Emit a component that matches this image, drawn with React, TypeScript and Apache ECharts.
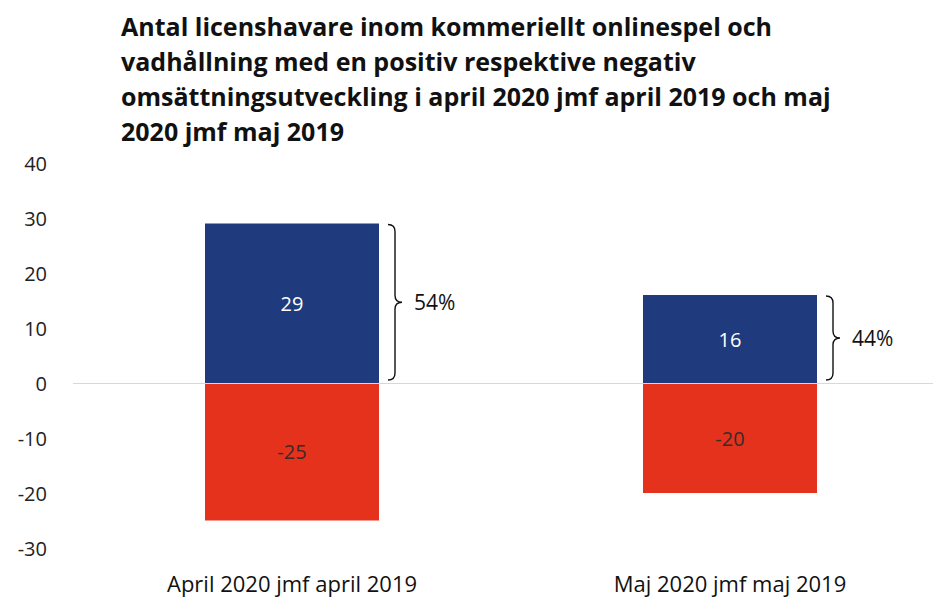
import React, { useEffect, useRef } from "react";
import * as echarts from "echarts";

const categories = ["April 2020 jmf april 2019", "Maj 2020 jmf maj 2019"];
const positiveValues = [29, 16];
const negativeValues = [-25, -20];
const shareLabels = ["54%", "44%"];
const yTicks = { min: -30, max: 40, interval: 10 };
const titleLines = [
  "Antal licenshavare inom kommeriellt onlinespel och",
  "vadhållning med en positiv respektive negativ",
  "omsättningsutveckling i april 2020 jmf april 2019 och maj",
  "2020 jmf maj 2019",
];

const BAR_W = 174;
const FONT = "'Open Sans', 'Noto Sans', sans-serif";

export default function App() {
  const ref = useRef<HTMLDivElement>(null);
  useEffect(() => {
    document.body.style.margin = "0";
    if (!ref.current) return;
    const chart = echarts.init(ref.current, undefined, { renderer: "svg" });
    const braceData = positiveValues.map((v, i) => [i, v, shareLabels[i]]);
    chart.setOption({
      animation: false,
      backgroundColor: "#ffffff",
      title: {
        text: titleLines.join("\n"),
        left: 116,
        top: 3,
        textStyle: {
          fontFamily: FONT,
          fontWeight: "bold",
          fontSize: 25,
          lineHeight: 35,
          color: "#111111",
        },
      },
      grid: { left: 73, top: 163, width: 876, height: 385 },
      xAxis: {
        type: "category",
        data: categories,
        position: "bottom",
        axisLine: { show: false },
        axisTick: { show: false },
        axisLabel: {
          margin: 24,
          fontFamily: FONT,
          fontSize: 22,
          color: "#111111",
        },
      },
      yAxis: {
        type: "value",
        min: yTicks.min,
        max: yTicks.max,
        interval: yTicks.interval,
        axisLine: { show: false },
        axisTick: { show: false },
        splitLine: { show: false },
        axisLabel: {
          margin: 26,
          fontFamily: FONT,
          fontSize: 20,
          color: "#222222",
        },
      },
      series: [
        {
          type: "bar",
          stack: "s",
          data: positiveValues,
          barWidth: BAR_W,
          itemStyle: { color: "#1f3a7d" },
          label: {
            show: true,
            position: "inside",
            fontFamily: FONT,
            fontSize: 20,
            color: "#ffffff",
          },
          z: 2,
        },
        {
          type: "bar",
          stack: "s",
          data: negativeValues,
          barWidth: BAR_W,
          itemStyle: { color: "#e5321c" },
          label: {
            show: true,
            position: "inside",
            fontFamily: FONT,
            fontSize: 20,
            color: "#3a2a2a",
          },
          markLine: {
            silent: true,
            symbol: "none",
            label: { show: false },
            lineStyle: { color: "#d8d8d8", type: "solid", width: 1 },
            data: [{ yAxis: 0 }],
            z: 5,
          },
          z: 2,
        },
        {
          type: "custom",
          data: braceData,
          z: 3,
          renderItem: (params: any, api: any) => {
            const idx = api.value(0);
            const top = api.coord([idx, api.value(1)]);
            const zero = api.coord([idx, 0]);
            const x0 = top[0] + BAR_W / 2 + 9;
            const yt = top[1] + 1;
            const yb = zero[1] - 3;
            const ym = (yt + yb) / 2;
            const w = 14;
            const xm = x0 + w / 2;
            const xe = x0 + w;
            const r = 7;
            const d =
              `M${x0} ${yt} Q${xm} ${yt} ${xm} ${yt + r} L${xm} ${ym - r} ` +
              `Q${xm} ${ym} ${xe} ${ym} Q${xm} ${ym} ${xm} ${ym + r} ` +
              `L${xm} ${yb - r} Q${xm} ${yb} ${x0} ${yb}`;
            return {
              type: "group",
              children: [
                {
                  type: "path",
                  shape: { pathData: d },
                  style: { fill: "none", stroke: "#111111", lineWidth: 1.4 },
                },
                {
                  type: "text",
                  x: xe + 12,
                  y: ym,
                  style: {
                    text: String(api.value(2)),
                    fontFamily: FONT,
                    fontSize: 21,
                    fill: "#111111",
                    verticalAlign: "middle",
                    align: "left",
                  },
                },
              ],
            };
          },
        },
      ],
    });
    return () => chart.dispose();
  }, []);
  return (
    <div style={{ width: 933, height: 597, overflow: "hidden" }}>
      <div ref={ref} style={{ width: 960, height: 597 }} />
    </div>
  );
}
